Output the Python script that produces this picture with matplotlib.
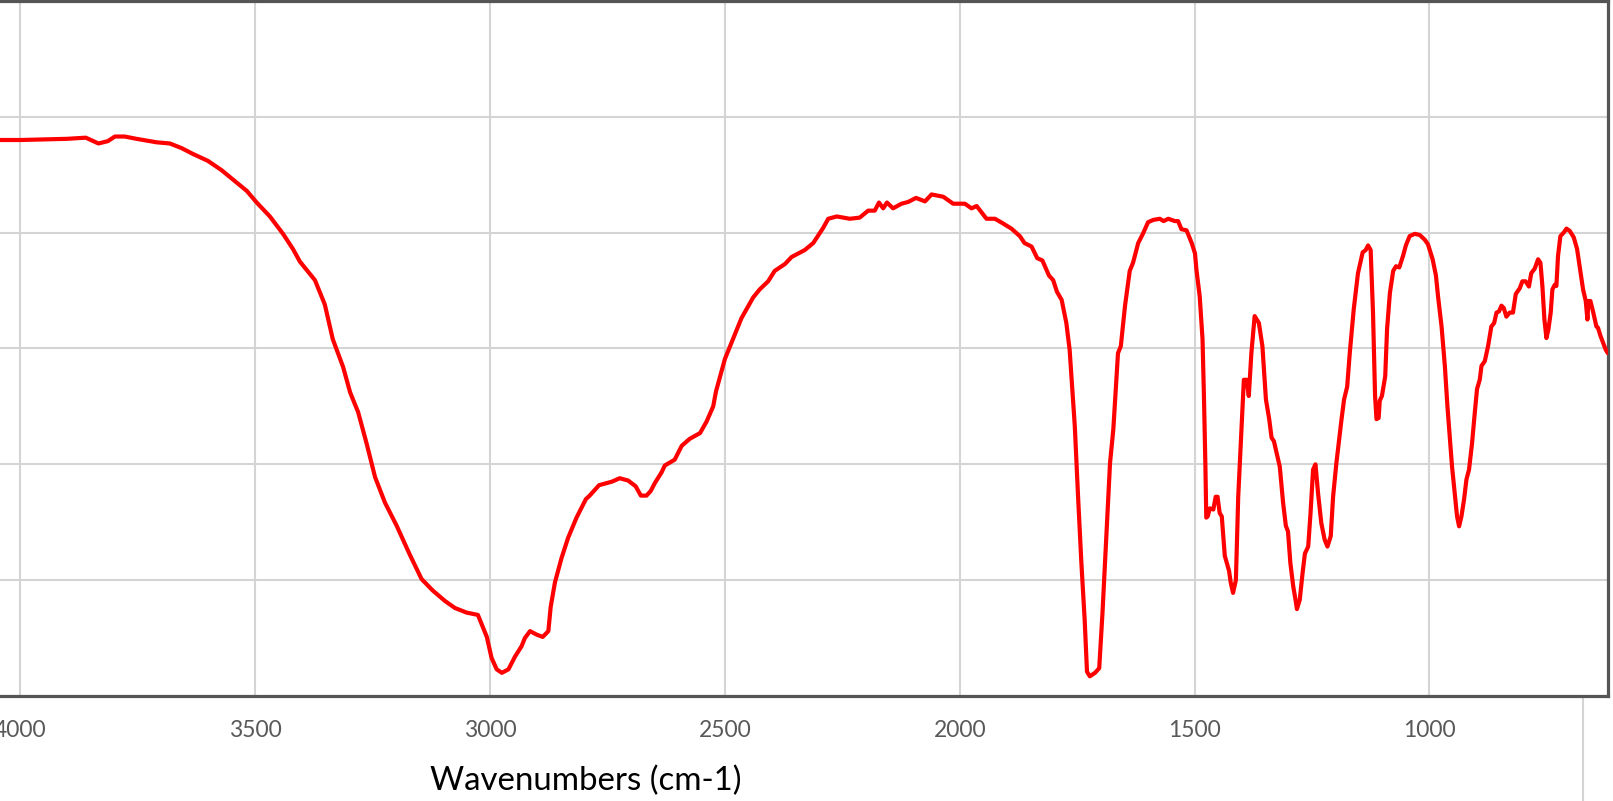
import numpy as np
import matplotlib
matplotlib.use("Agg")
import matplotlib.pyplot as plt
from matplotlib.lines import Line2D

# IR spectrum (wavenumber cm-1, transmittance)
wavenumbers = [
  4050, 4000, 3902, 3861, 3834, 3814, 3799, 3778, 3753, 3710, 3682, 3657, 3633, 3601,
  3572, 3548, 3518, 3497, 3469, 3441, 3420, 3405, 3373, 3352, 3335, 3313, 3298, 3281,
  3263, 3245, 3224, 3199, 3171, 3146, 3122, 3096, 3075, 3050, 3026,
  3007, 2997, 2986, 2975, 2961, 2947, 2933, 2926, 2915, 2901, 2888, 2876, 2871, 2862,
  2848, 2834, 2816, 2796, 2788, 2768, 2741, 2724, 2706, 2690, 2679, 2667, 2658, 2649,
  2635, 2628, 2607, 2592, 2575, 2553, 2539, 2525, 2519, 2500, 2482, 2465, 2440, 2426,
  2408, 2394, 2372, 2358, 2330, 2312, 2291, 2280, 2262, 2234, 2213, 2195, 2181, 2172,
  2163, 2155, 2142, 2124, 2110, 2093, 2074, 2060, 2035, 2014, 2000, 1989, 1975, 1964,
  1943, 1925, 1908, 1890, 1872, 1862, 1847, 1835, 1824, 1810, 1801, 1793, 1783, 1773,
  1766, 1755, 1748, 1741, 1734, 1729, 1723, 1712, 1703, 1696, 1687, 1680, 1673, 1663,
  1657, 1648, 1638, 1631, 1620, 1610, 1599, 1588, 1574, 1566, 1556, 1542, 1535, 1528,
  1517, 1506, 1499, 1496, 1489, 1483, 1480, 1477, 1475, 1472, 1467.5, 1460, 1455, 1451,
  1446.5, 1442, 1435.6, 1426.5, 1423, 1418, 1412, 1407, 1400, 1395, 1389, 1384.5, 1379,
  1372, 1363, 1355.5, 1348, 1341, 1336, 1331, 1318.5, 1311.5, 1305.6, 1301, 1296, 1290,
  1285, 1282, 1276, 1270, 1265, 1258, 1253, 1247.6, 1242.5, 1237, 1230, 1223, 1217,
  1210, 1205, 1198, 1187, 1181.6, 1175, 1169.5, 1161, 1152, 1142, 1135.5, 1130.5, 1125,
  1120, 1115.6, 1112.6, 1108, 1105.6, 1101, 1094, 1090, 1084, 1077, 1071, 1064, 1056,
  1050, 1042, 1031, 1020.5, 1010, 1003, 993, 986, 981.5, 974, 967, 961.5, 956.6, 951.7,
  946, 941, 936.7, 931.7, 926, 921, 915.5, 909, 903.4, 898.5, 892.7, 889, 882, 875, 868,
  862, 857, 851.7, 846.5, 841.6, 836, 829, 822, 816, 807.5, 802, 795, 788, 783, 775.6,
  768.5, 763.5, 759.3, 755, 750.7, 746.5, 741.6, 738, 733, 729.5, 726, 721, 714, 708,
  701, 692.6, 685.5, 680, 672.7, 667, 663.4, 661.3, 657, 651.5, 644.3, 641, 635.7, 630,
  624.5, 620,
]
transmittance = [
  88.0, 88.0, 88.1, 88.2, 87.7, 87.9, 88.3, 88.3, 88.1, 87.8, 87.7, 87.3, 86.8, 86.2,
  85.4, 84.6, 83.6, 82.6, 81.4, 79.9, 78.6, 77.5, 75.9, 73.8, 70.8, 68.4, 66.2, 64.5,
  61.8, 58.9, 56.7, 54.7, 52.2, 50.1, 49.1, 48.2, 47.6, 47.2, 47.0,
  45.1, 43.3, 42.3, 42.0, 42.3, 43.4, 44.3, 45.0, 45.6, 45.3, 45.1, 45.6, 47.7, 49.8,
  51.9, 53.65, 55.4, 57.0, 57.3, 58.2, 58.5, 58.8, 58.6, 58.1, 57.3, 57.3, 57.7, 58.4,
  59.3, 59.9, 60.4, 61.6, 62.2, 62.7, 63.7, 65.0, 66.3, 69.1, 70.9, 72.6, 74.4, 75.1,
  75.8, 76.7, 77.3, 77.9, 78.5, 79.1, 80.4, 81.2, 81.4, 81.2, 81.3, 81.9, 81.9, 82.6,
  82.1, 82.6, 82.1, 82.5, 82.65, 83.0, 82.7, 83.3, 83.1, 82.5, 82.5, 82.5, 82.1, 82.3,
  81.2, 81.2, 80.8, 80.35, 79.7, 79.1, 78.8, 77.8, 77.6, 76.3, 75.9, 74.9, 74.2, 72.2,
  69.9, 63.3, 57.2, 51.5, 46.6, 42.1, 41.7, 42.0, 42.4, 47.2, 54.4, 60.1, 63.0, 69.6,
  70.2, 73.7, 76.7, 77.4, 79.1, 79.9, 80.9, 81.1, 81.2, 81.0, 81.2, 81.0, 81.0, 80.3,
  80.2, 79.1, 78.2, 76.8, 74.5, 70.8, 65.9, 60.1, 55.4, 55.5, 56.2, 56.1, 57.2, 57.2,
  55.8, 55.5, 52.1, 50.8, 49.8, 48.9, 50.0, 57.2, 63.0, 67.3, 67.3, 65.9, 69.6,
  72.8, 72.2, 70.2, 65.6, 63.9, 62.3, 62.0, 59.8, 56.7, 54.7, 54.2, 51.5, 49.5,
  48.3, 47.5, 48.3, 50.6, 52.3, 52.9, 55.8, 59.55, 60.0, 57.5, 54.9, 53.5, 52.9,
  53.8, 57.2, 60.1, 63.9, 65.6, 66.7, 69.6, 73.4, 76.5, 78.3, 78.5, 78.9, 78.5,
  73.1, 65.9, 63.9, 64.0, 65.5, 65.9, 67.6, 71.7, 74.8, 76.7, 77.1, 77.0, 78.0,
  78.9, 79.7, 79.9, 79.8, 79.4, 79.0, 77.7, 76.3, 74.5, 71.9, 68.5, 65.0, 62.4, 59.8,
  57.5, 55.5, 54.65, 55.5, 57.0, 58.7, 59.55, 61.85, 64.4, 66.5, 67.3, 68.5, 68.9, 70.2, 71.9,
  72.2, 73.1, 73.2, 73.7, 73.5, 72.75, 73.1, 73.1, 74.7, 75.2, 75.8, 75.8, 75.35, 76.5, 76.9,
  77.7, 77.4, 75.4, 72.5, 70.9, 71.65, 73.1, 75.1, 75.5, 75.4, 78.0, 79.7, 80.0, 80.35,
  80.15, 79.6, 78.6, 77.1, 75.1, 74.1, 72.5, 74.1, 74.1, 73.2, 71.9, 71.8, 71.1, 70.5,
  69.9, 69.6,
]
x_ticks = [4000, 3500, 3000, 2500, 2000, 1500, 1000]
y_grid = [40, 50, 60, 70, 80, 90, 100]
x_label = "Wavenumbers (cm-1)"

W, H = 1613, 801
fig = plt.figure(figsize=(W / 100, H / 100), dpi=100)
# the reference is a crop: the axes start left of the picture
ax_left, ax_right, ax_top, ax_bottom = -60, 1608, 1, 696
ax = fig.add_axes([ax_left / W, 1 - ax_bottom / H,
                   (ax_right - ax_left) / W, (ax_bottom - ax_top) / H])

ax.plot(wavenumbers, transmittance, color="#ff0000", lw=3.0,
        solid_joinstyle="round", solid_capstyle="round", zorder=3)

ax.set_xlim(4171.4, 619.6)
ax.set_ylim(40, 100)
ax.set_xticks(x_ticks)
ax.set_yticks(y_grid)
ax.set_yticklabels([])
ax.grid(True, color="#d4d4d4", lw=1.5)
ax.tick_params(axis="x", length=0, pad=17, labelsize=16.5, labelcolor="#595959")
ax.tick_params(axis="y", length=0)
for lab in ax.get_xticklabels():
  lab.set_family("Lato")
for side in ["top", "bottom", "right", "left"]:
  ax.spines[side].set_color("#555555")
  ax.spines[side].set_linewidth(2.3)

# stray grid line running through the whole picture
fig.add_artist(Line2D([1583 / W, 1583 / W], [0, 1], color="#d4d4d4", lw=1.5,
                      transform=fig.transFigure, zorder=0))

fig.text(586 / W, 1 - 790 / H, x_label, ha="center", va="baseline",
         fontsize=23.8, family="Lato", color="black")

fig.savefig("out.png", dpi=100)
